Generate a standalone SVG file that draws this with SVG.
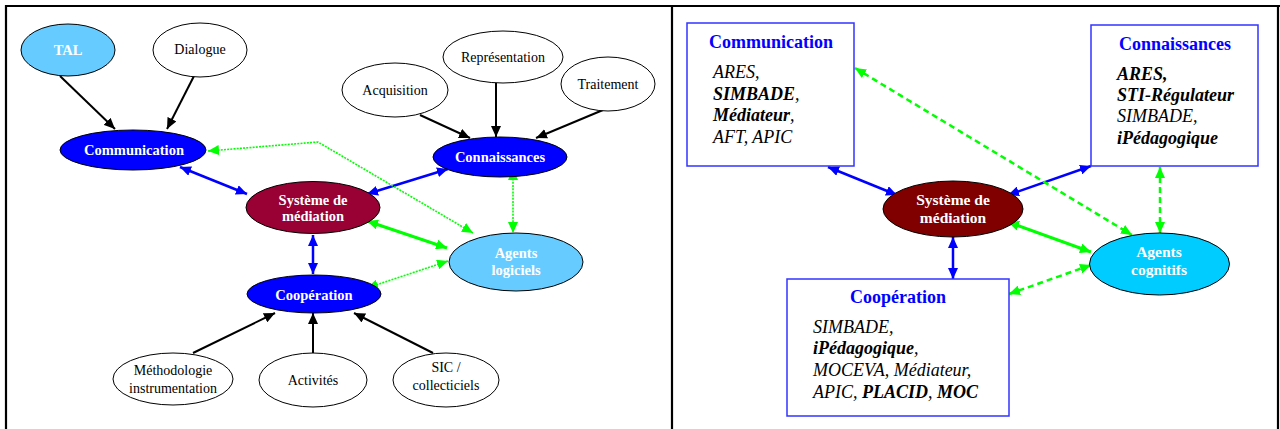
<svg xmlns="http://www.w3.org/2000/svg" width="1280" height="429" viewBox="0 0 1280 429">
<defs>
<marker id="ak" markerUnits="userSpaceOnUse" markerWidth="11" markerHeight="10" refX="11" refY="5" orient="auto-start-reverse"><path d="M0,0 L11,5 L0,10 z" fill="#000"/></marker>
<marker id="ab" markerUnits="userSpaceOnUse" markerWidth="11" markerHeight="10" refX="11" refY="5" orient="auto-start-reverse"><path d="M0,0 L11,5 L0,10 z" fill="#0000FF"/></marker>
<marker id="ag" markerUnits="userSpaceOnUse" markerWidth="11" markerHeight="10" refX="11" refY="5" orient="auto-start-reverse"><path d="M0,0 L11,5 L0,10 z" fill="#00FF00"/></marker>
</defs>
<style>
text{font-family:"Liberation Serif","Times New Roman",serif}
.n{fill:#fff;stroke:#000;stroke-width:1}
.lbl{font-size:14px;fill:#000;text-anchor:middle}
.wb{font-size:14.5px;font-weight:bold;fill:#fff;text-anchor:middle}
.wb2{font-size:15.5px;font-weight:bold;fill:#fff;text-anchor:middle}
.k{stroke:#000;stroke-width:2;fill:none;marker-end:url(#ak)}
.b{stroke:#0000FF;stroke-width:2.5;fill:none;marker-start:url(#ab);marker-end:url(#ab)}
.gd{stroke:#00FF00;stroke-width:1.6;stroke-dasharray:2 1.2;fill:none;marker-start:url(#ag);marker-end:url(#ag)}
.gs{stroke:#00FF00;stroke-width:3;fill:none;marker-start:url(#ag);marker-end:url(#ag)}
.gdr{stroke:#00FF00;stroke-width:2.5;stroke-dasharray:6 4;fill:none;marker-start:url(#ag);marker-end:url(#ag)}
.box{fill:#fff;stroke:#3333FF;stroke-width:1.5}
.bt{font-size:18px;font-weight:bold;fill:#0000FF;text-anchor:middle}
.it{font-size:18px;font-style:italic;fill:#000}
.bi{font-weight:bold}
</style>
<rect width="1280" height="429" fill="#fff"/>
<g id="frame" stroke="#000" stroke-width="2.2" fill="none">
<line x1="5" y1="6" x2="1280" y2="6"/>
<line x1="6" y1="5" x2="6" y2="429"/>
<line x1="672" y1="5" x2="672" y2="429"/>
<line x1="1278" y1="5" x2="1278" y2="429"/>
</g>

<!-- LEFT PANEL -->
<g id="connectors-left">
<line class="k" x1="60" y1="76" x2="115" y2="129"/>
<line class="k" x1="194" y1="76" x2="167" y2="129"/>
<line class="k" x1="420" y1="115" x2="470" y2="138"/>
<line class="k" x1="496" y1="83" x2="496" y2="137"/>
<line class="k" x1="603" y1="110" x2="536" y2="138"/>
<line class="k" x1="193" y1="353" x2="275" y2="313"/>
<line class="k" x1="313" y1="354" x2="313" y2="313"/>
<line class="k" x1="433" y1="353" x2="354" y2="313"/>
<line class="b" x1="180" y1="167" x2="247" y2="194"/>
<line class="b" x1="448" y1="169" x2="367" y2="194"/>
<line class="b" x1="313" y1="235" x2="313" y2="274"/>
<polyline class="gd" points="208,151 318,142 473,233"/>
<line class="gd" x1="513" y1="169" x2="513" y2="233"/>
<line class="gs" x1="367" y1="221" x2="447" y2="248"/>
<line class="gd" x1="448" y1="261" x2="367" y2="288"/>
</g>

<g id="tal"><ellipse cx="68" cy="50" rx="47" ry="26" fill="#66CCFF" stroke="#000" stroke-width="1"/><text class="wb" x="68" y="55">TAL</text></g>
<g id="dialogue"><ellipse class="n" cx="200" cy="50" rx="47" ry="27"/><text class="lbl" x="200" y="54" font-size="13.5">Dialogue</text></g>
<g id="communication"><ellipse cx="133" cy="150" rx="73" ry="20" fill="#0000FF" stroke="#000" stroke-width="1"/><text class="wb" x="134" y="155">Communication</text></g>
<g id="acquisition"><ellipse class="n" cx="395" cy="90" rx="53" ry="27"/><text class="lbl" x="395" y="95">Acquisition</text></g>
<g id="representation"><ellipse class="n" cx="503" cy="57" rx="60" ry="26"/><text class="lbl" x="503" y="62">Représentation</text></g>
<g id="traitement"><ellipse class="n" cx="608" cy="84" rx="47" ry="27"/><text class="lbl" x="608" y="89">Traitement</text></g>
<g id="connaissances"><ellipse cx="500" cy="157" rx="67" ry="20" fill="#0000FF" stroke="#000" stroke-width="1"/><text class="wb" x="500" y="162">Connaissances</text></g>
<g id="systeme"><ellipse cx="313" cy="207.5" rx="67" ry="26" fill="#990033" stroke="#000" stroke-width="1"/><text class="wb" x="313" y="205">Système de</text><text class="wb" x="313" y="221">médiation</text></g>
<g id="agents-logiciels"><ellipse cx="516" cy="262" rx="67" ry="29" fill="#66CCFF" stroke="#000" stroke-width="1"/><text class="wb" x="516" y="258">Agents</text><text class="wb" x="516" y="275">logiciels</text></g>
<g id="cooperation"><ellipse cx="314" cy="294" rx="67" ry="19" fill="#0000FF" stroke="#000" stroke-width="1"/><text class="wb" x="314" y="300">Coopération</text></g>
<g id="methodologie"><ellipse class="n" cx="173" cy="379" rx="60" ry="26"/><text class="lbl" x="173" y="375">Méthodologie</text><text class="lbl" x="173" y="393">instrumentation</text></g>
<g id="activites"><ellipse class="n" cx="313" cy="380" rx="54" ry="27"/><text class="lbl" x="313" y="385">Activités</text></g>
<g id="sic"><ellipse class="n" cx="446" cy="380" rx="53" ry="27"/><text class="lbl" x="446" y="372">SIC /</text><text class="lbl" x="446" y="390">collecticiels</text></g>

<!-- RIGHT PANEL -->
<g id="connectors-right">
<line class="b" x1="828" y1="167" x2="897" y2="195"/>
<line class="b" x1="1091" y1="166" x2="1008" y2="195"/>
<line class="b" x1="953" y1="237" x2="953" y2="279"/>
<line class="gdr" x1="855" y1="68" x2="1132" y2="235"/>
<line class="gdr" x1="1160" y1="167" x2="1160" y2="233"/>
<line class="gs" x1="1008" y1="222" x2="1091" y2="252"/>
<line class="gdr" x1="1009" y1="294" x2="1091" y2="265"/>
</g>

<g id="r-communication">
<rect class="box" x="687" y="23" width="167" height="143"/>
<text class="bt" x="771" y="48">Communication</text>
<text class="it" x="713" y="78">ARES,</text>
<text class="it" x="713" y="100"><tspan class="bi">SIMBADE</tspan>,</text>
<text class="it" x="713" y="121"><tspan class="bi">Médiateur</tspan>,</text>
<text class="it" x="713" y="143">AFT, APIC</text>
</g>
<g id="r-connaissances">
<rect class="box" x="1091" y="25" width="167" height="141"/>
<text class="bt" x="1175" y="50">Connaissances</text>
<text class="it bi" x="1117" y="80">ARES,</text>
<text class="it bi" x="1117" y="101">STI-Régulateur</text>
<text class="it" x="1117" y="122">SIMBADE,</text>
<text class="it bi" x="1117" y="144">iPédagogique</text>
</g>
<g id="r-systeme"><ellipse cx="953" cy="209" rx="70" ry="28" fill="#800000" stroke="#000" stroke-width="1"/><text class="wb2" x="953" y="205">Système de</text><text class="wb2" x="953" y="223">médiation</text></g>
<g id="r-agents"><ellipse cx="1159.5" cy="264" rx="70" ry="31" fill="#00CCFF" stroke="#000" stroke-width="1"/><text class="wb2" x="1159" y="257">Agents</text><text class="wb2" x="1159" y="275">cognitifs</text></g>
<g id="r-cooperation">
<rect class="box" x="787" y="279" width="222" height="137"/>
<text class="bt" x="898" y="303">Coopération</text>
<text class="it" x="813" y="333">SIMBADE,</text>
<text class="it" x="813" y="354"><tspan class="bi">iPédagogique</tspan>,</text>
<text class="it" x="813" y="376">MOCEVA, Médiateur,</text>
<text class="it" x="813" y="398">APIC, <tspan class="bi">PLACID</tspan>, <tspan class="bi">MOC</tspan></text>
</g>
</svg>
